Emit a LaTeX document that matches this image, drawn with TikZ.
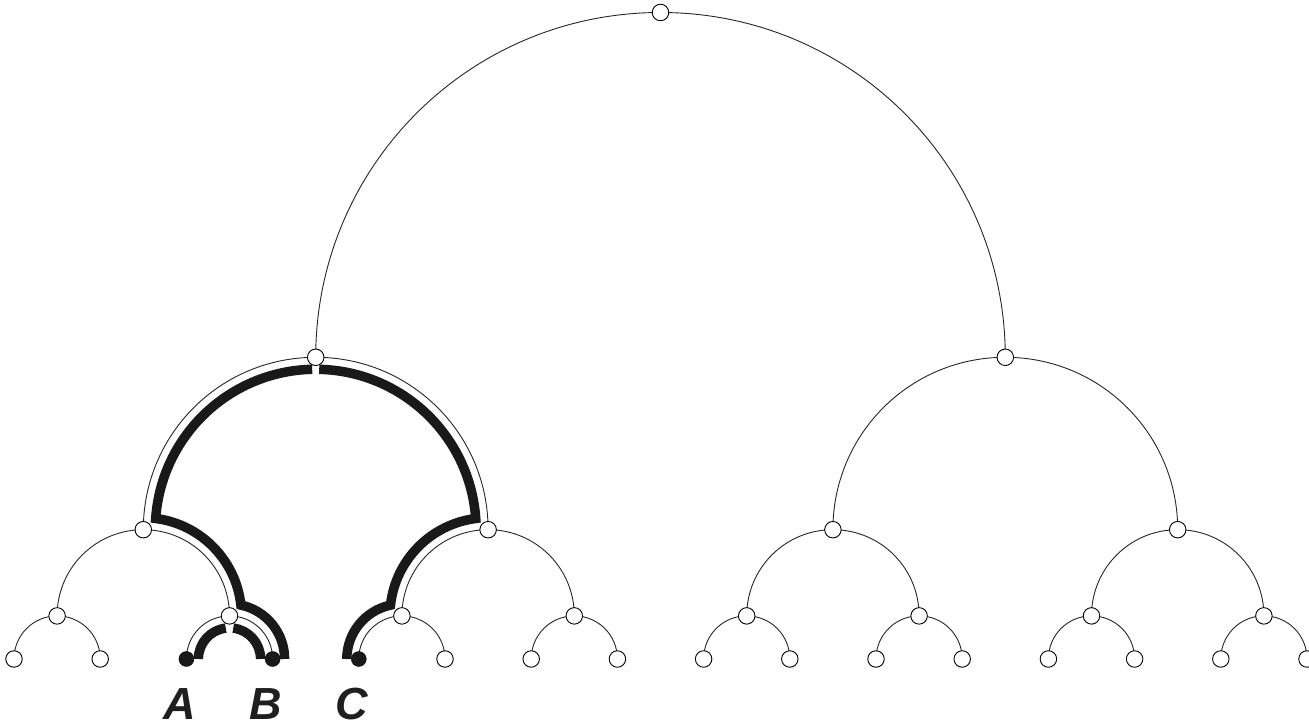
\documentclass[tikz,border=0pt]{standalone}
\usepackage{fontspec}
\setmainfont{Liberation Sans}
\usetikzlibrary{calc,backgrounds}
\tikzset{
  treenode/.style={circle, draw=black, fill=white, line width=0.9pt, minimum size=16.5pt, inner sep=0pt},
  leafdot/.style={circle, draw=black, fill=black!90, minimum size=15pt, inner sep=0pt},
  branch/.style={line width=0.9pt, draw=black!85},
  hlpath/.style={line width=9.5pt, draw=black!90},
  tag/.style={font=\fontsize{45}{50}\selectfont\bfseries\itshape, text=black!88, inner sep=0pt}
}

\begin{document}
\begin{tikzpicture}[x=1pt,y=1pt]
  \useasboundingbox (0,0) rectangle (1309,727);
  % leaves
  \foreach \k in {0,1,5,6,...,15}
    \node[treenode] (l\k) at ({14+86.2*\k},68) {};
  \foreach \k in {2,3,4}
    \node[leafdot] (l\k) at ({14+86.2*\k},68) {};
  % inner levels, each arc from left child over the parent to the right child
  \foreach \k [evaluate=\k as \i using {int(2*\k)}, evaluate=\k as \j using {int(2*\k+1)}] in {0,...,7} {
    \node[treenode] (c\k) at ($(l\i)!0.5!(l\j)+(0,43.1)$) {};
    \begin{pgfonlayer}{background}
      \draw[branch] (l\i.center) to[out=90,in=180] (c\k.center) to[out=0,in=90] (l\j.center);
    \end{pgfonlayer}
  }
  \foreach \k [evaluate=\k as \i using {int(2*\k)}, evaluate=\k as \j using {int(2*\k+1)}] in {0,...,3} {
    \node[treenode] (b\k) at ($(c\i)!0.5!(c\j)+(0,86.2)$) {};
    \begin{pgfonlayer}{background}
      \draw[branch] (c\i.center) to[out=90,in=180] (b\k.center) to[out=0,in=90] (c\j.center);
    \end{pgfonlayer}
  }
  \foreach \k [evaluate=\k as \i using {int(2*\k)}, evaluate=\k as \j using {int(2*\k+1)}] in {0,1} {
    \node[treenode] (a\k) at ($(b\i)!0.5!(b\j)+(0,172.4)$) {};
    \begin{pgfonlayer}{background}
      \draw[branch] (b\i.center) to[out=90,in=180] (a\k.center) to[out=0,in=90] (b\j.center);
    \end{pgfonlayer}
  }
  \node[treenode] (root) at ($(a0)!0.5!(a1)+(0,344.8)$) {};
  \begin{pgfonlayer}{background}
    \draw[branch] (a0.center) to[out=90,in=180] (root.center) to[out=0,in=90] (a1.center);
  \end{pgfonlayer}

  % arc centres for the marked paths
  \coordinate (oc1) at ($(l2)!0.5!(l3)$);
  \coordinate (oa0) at ($(b0)!0.5!(b1)$);

  \begin{pgfonlayer}{background}
    % path A -- B
    \draw[hlpath] ([shift={(180:31.1)}]oc1) arc[start angle=180, end angle=96.9, radius=31.1];
    \draw[hlpath] ([shift={(83.1:31.1)}]oc1) arc[start angle=83.1, end angle=0, radius=31.1];
    % path B -- C
    \draw[hlpath] ([shift={(0:55.1)}]oc1) arc[start angle=0, end angle=78.06, radius=55.1]
      arc[start angle=6.31, end angle=82.75, radius=98.2]
      arc[start angle=176.0, end angle=91.25, radius=160.4];
    \draw[hlpath] ([shift={(88.75:160.4)}]oa0) arc[start angle=88.75, end angle=4.0, radius=160.4]
      arc[start angle=97.25, end angle=173.7, radius=98.2]
      arc[start angle=101.94, end angle=180, radius=55.1];
  \end{pgfonlayer}

  % labels
  \node[tag] (labA) at (180,23) {A};
  \node[tag] (labB) at (266,23) {B};
  \node[tag] (labC) at (352,23) {C};
\end{tikzpicture}
\end{document}
